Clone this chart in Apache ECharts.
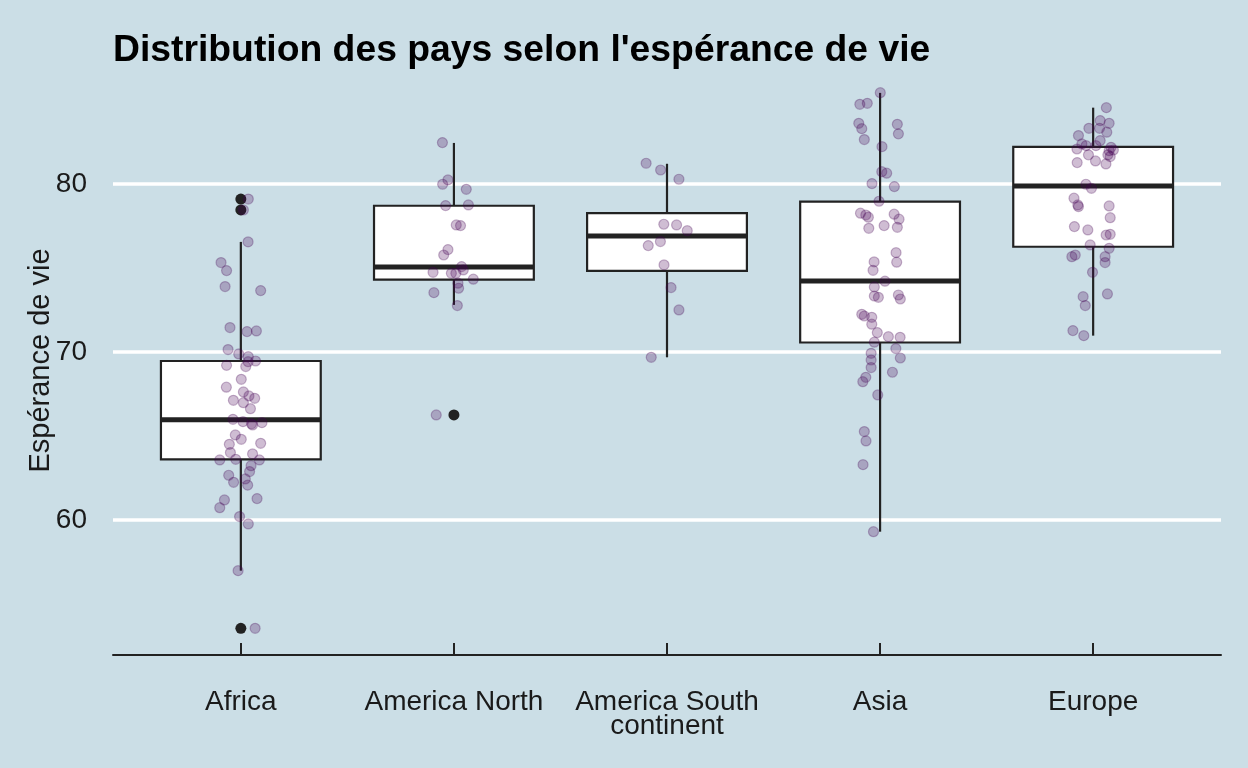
<!DOCTYPE html>
<html lang="fr">
<head>
<meta charset="UTF-8">
<title>Distribution des pays selon l'espérance de vie</title>
<script src="https://cdn.jsdelivr.net/npm/echarts@6.0.0/dist/echarts.min.js"></script>
<style>
  html, body { margin: 0; padding: 0; background: #cbdee6; }
  #main { width: 1248px; height: 768px; }
</style>
</head>
<body>
<div id="main"></div>
<script>
// continents on the x axis
const categories = ['Africa', 'America North', 'America South\ncontinent', 'Asia', 'Europe'];

// box statistics, one value per continent
const whiskerLow  = [56.98, 72.80, 69.68, 59.30, 70.97];
const q1          = [63.60, 74.31, 74.82, 70.56, 76.26];
const median      = [65.97, 75.05, 76.90, 74.22, 79.87];
const q3          = [69.46, 78.70, 78.26, 78.95, 82.20];
const whiskerHigh = [76.55, 82.44, 81.20, 85.42, 84.54];

// outliers: [continent index, life expectancy]
const outliers = [[0, 79.10], [0, 78.45], [0, 53.55], [1, 66.25]];

// jittered countries: [horizontal jitter, life expectancy]
const africaPts = [
  [0.035, 79.10], [0.012, 78.45], [0.034, 76.55], [-0.093, 75.32], [-0.067, 74.84],
  [-0.074, 73.89], [0.093, 73.65], [-0.051, 71.45], [0.029, 71.21], [0.073, 71.25],
  [-0.060, 70.14], [-0.010, 69.88], [0.035, 69.72], [0.034, 69.42], [0.069, 69.46],
  [-0.067, 69.20], [0.023, 69.13], [0.002, 68.37], [-0.068, 67.90], [0.012, 67.62],
  [0.038, 67.38], [0.065, 67.24], [-0.035, 67.12], [0.012, 66.98], [0.045, 66.62],
  [-0.037, 65.99], [0.010, 65.85], [0.055, 65.65], [0.099, 65.79], [0.050, 65.72],
  [-0.026, 65.06], [0.002, 64.80], [-0.054, 64.50], [0.093, 64.56], [-0.049, 64.01],
  [0.055, 63.93], [-0.099, 63.57], [-0.024, 63.61], [0.087, 63.57], [0.048, 63.23],
  [0.041, 62.88], [-0.057, 62.66], [0.021, 62.44], [-0.034, 62.24], [0.032, 62.07],
  [-0.077, 61.19], [0.076, 61.27], [-0.099, 60.73], [-0.006, 60.20], [0.035, 59.76],
  [-0.013, 56.98], [0.067, 53.55]
];
const northPts = [
  [-0.054, 82.46], [-0.028, 80.24], [-0.053, 79.98], [0.058, 79.68], [-0.039, 78.71],
  [0.068, 78.75], [0.011, 77.56], [0.031, 77.52], [-0.028, 76.09], [-0.048, 75.77],
  [0.036, 75.08], [0.044, 74.88], [-0.098, 74.74], [-0.012, 74.68], [0.009, 74.68],
  [0.091, 74.33], [0.019, 74.09], [0.022, 73.79], [-0.094, 73.53], [0.016, 72.76],
  [-0.083, 66.25]
];
const southPts = [
  [-0.098, 81.23], [-0.030, 80.83], [0.056, 80.28], [-0.015, 77.60], [0.045, 77.56],
  [0.095, 77.22], [-0.031, 76.57], [-0.088, 76.33], [-0.014, 75.18], [0.019, 73.83],
  [0.056, 72.50], [-0.074, 69.68]
];
const asiaPts = [
  [0.001, 85.43], [-0.095, 84.74], [-0.060, 84.80], [-0.100, 83.61], [-0.086, 83.29],
  [0.081, 83.55], [0.086, 82.98], [-0.074, 82.64], [0.009, 82.22], [0.008, 80.73],
  [0.031, 80.64], [-0.038, 80.02], [0.067, 79.84], [-0.005, 78.97], [-0.092, 78.26],
  [-0.067, 78.15], [-0.055, 78.02], [0.066, 78.20], [0.089, 77.90], [-0.053, 77.36],
  [0.019, 77.52], [0.081, 77.42], [0.075, 75.91], [0.078, 75.34], [-0.028, 75.36],
  [-0.033, 74.86], [0.023, 74.21], [-0.027, 73.87], [-0.027, 73.33], [-0.008, 73.25],
  [0.086, 73.39], [0.095, 73.15], [-0.086, 72.24], [-0.074, 72.14], [-0.039, 72.06],
  [-0.039, 71.65], [-0.013, 71.15], [0.039, 70.91], [0.094, 70.87], [-0.027, 70.58],
  [0.074, 70.20], [-0.042, 69.92], [-0.042, 69.52], [-0.042, 69.07], [0.095, 69.64],
  [0.058, 68.79], [-0.067, 68.49], [-0.081, 68.23], [-0.011, 67.44], [-0.074, 65.26],
  [-0.066, 64.70], [-0.080, 63.29], [-0.031, 59.30]
];
const europePts = [
  [0.062, 84.54], [0.033, 83.77], [0.075, 83.61], [-0.020, 83.31], [0.030, 83.31],
  [0.064, 83.08], [-0.069, 82.88], [0.033, 82.58], [-0.053, 82.38], [-0.033, 82.28],
  [0.013, 82.28], [0.084, 82.18], [-0.076, 82.08], [0.075, 81.98], [0.095, 82.02],
  [-0.022, 81.73], [0.080, 81.63], [0.011, 81.37], [-0.075, 81.27], [0.060, 81.19],
  [0.069, 81.73], [-0.034, 79.98], [-0.008, 79.74], [-0.090, 79.15], [-0.072, 78.75],
  [-0.069, 78.65], [0.075, 78.69], [0.080, 77.99], [-0.088, 77.46], [-0.025, 77.26],
  [0.061, 76.96], [0.080, 77.00], [-0.014, 76.37], [0.075, 76.17], [-0.100, 75.67],
  [-0.084, 75.77], [0.056, 75.67], [0.056, 75.32], [-0.003, 74.74], [0.067, 73.45],
  [-0.047, 73.29], [-0.037, 72.76], [-0.095, 71.27], [-0.044, 70.97]
];

const yTicks = [60, 70, 80];
const xTicks = [0, 1, 2, 3, 4];

const FONT = "'Liberation Sans', Arial, Helvetica, sans-serif";
const INK = '#222222';

let boxData = categories.map((c, i) => [i, whiskerLow[i], q1[i], median[i], q3[i], whiskerHigh[i]]);
let jitterData = [];
[africaPts, northPts, southPts, asiaPts, europePts].forEach((pts, i) => {
  pts.forEach(p => jitterData.push([i + p[0], p[1]]));
});

function renderBox(params, api) {
  let i = api.value(0);
  let lo = api.coord([i, api.value(1)]);
  let b1 = api.coord([i - 0.375, api.value(2)]);
  let md = api.coord([i, api.value(3)]);
  let b2 = api.coord([i + 0.375, api.value(4)]);
  let hi = api.coord([i, api.value(5)]);
  let line = { stroke: INK, lineWidth: 2.2, fill: null };
  return {
    type: 'group',
    children: [
      { type: 'line', shape: { x1: hi[0], y1: hi[1], x2: hi[0], y2: b2[1] }, style: line },
      { type: 'line', shape: { x1: lo[0], y1: b1[1], x2: lo[0], y2: lo[1] }, style: line },
      { type: 'rect', shape: { x: b1[0], y: b2[1], width: b2[0] - b1[0], height: b1[1] - b2[1] },
        style: { fill: '#ffffff', stroke: INK, lineWidth: 2.2 } },
      { type: 'line', shape: { x1: b1[0], y1: md[1], x2: b2[0], y2: md[1] },
        style: { stroke: INK, lineWidth: 5 } }
    ]
  };
}

let chart = echarts.init(document.getElementById('main'));

let option = {
  animation: false,
  backgroundColor: '#cbdee6',
  textStyle: { fontFamily: FONT },
  title: {
    text: "Distribution des pays selon l'espérance de vie",
    left: 113,
    top: 32,
    padding: 0,
    textStyle: { fontFamily: FONT, fontSize: 37.3, fontWeight: 'bold', color: '#000', lineHeight: 37 }
  },
  grid: { left: 113, right: 27, top: 66, bottom: 113, containLabel: false },
  xAxis: {
    type: 'value',
    min: -0.6,
    max: 4.6,
    splitLine: { show: false },
    axisLine: { show: true, lineStyle: { color: INK, width: 2 } },
    axisTick: { show: true, inside: true, length: 12, customValues: xTicks, lineStyle: { color: INK, width: 2 } },
    axisLabel: {
      customValues: xTicks,
      margin: 35,
      fontSize: 28,
      lineHeight: 24,
      color: '#1a1a1a',
      fontFamily: FONT,
      formatter: v => categories[Math.round(v)]
    }
  },
  yAxis: {
    type: 'value',
    min: 51.96,
    max: 87.02,
    name: 'Espérance de vie',
    nameLocation: 'middle',
    nameGap: 58,
    nameMoveOverlap: false,
    nameTextStyle: { fontSize: 29, color: '#1a1a1a', fontFamily: FONT, lineHeight: 29 },
    axisLine: { show: false },
    axisTick: { show: false, customValues: yTicks },
    axisLabel: { customValues: yTicks, margin: 26, fontSize: 28, color: '#1a1a1a', fontFamily: FONT },
    splitLine: { show: true, lineStyle: { color: '#ffffff', width: 3.5 } }
  },
  series: [
    {
      type: 'custom',
      name: 'boxes',
      renderItem: renderBox,
      encode: { x: 0, y: [1, 2, 3, 4, 5] },
      data: boxData,
      z: 2
    },
    {
      type: 'scatter',
      name: 'outliers',
      symbol: 'circle',
      symbolSize: 11,
      itemStyle: { color: INK, opacity: 1 },
      data: outliers,
      z: 3
    },
    {
      type: 'scatter',
      name: 'countries',
      symbol: 'circle',
      symbolSize: 10,
      itemStyle: {
        color: 'rgba(68,1,84,0.26)',
        borderColor: 'rgba(68,1,84,0.28)',
        borderWidth: 1.2,
        opacity: 1
      },
      data: jitterData,
      z: 4
    }
  ]
};

chart.setOption(option);
</script>
</body>
</html>
